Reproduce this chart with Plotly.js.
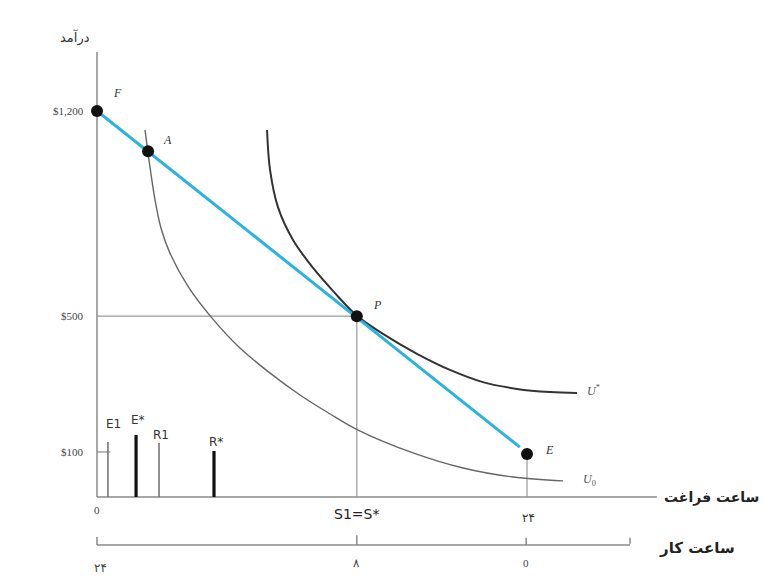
<!DOCTYPE html>
<html>
<head>
<meta charset="utf-8">
<script src="https://cdn.plot.ly/plotly-3.0.1.min.js"></script>
<style>html,body{margin:0;padding:0;background:#fff}</style>
</head>
<body>
<div id="chart" style="width:764px;height:579px"></div>
<script>
// Leisure hours (x) and income scale (y)
const budgetX = [0, 23.6];
const budgetY = [1200, 155];

const u0X = [2.68, 2.90, 3.24, 3.57, 4.07, 5.08, 6.47, 7.98, 9.66, 11.33, 13.01, 14.57, 17.64, 20.43, 23.22, 26.01];
const u0Y = [1141, 1048, 923, 836, 758, 655, 553, 463, 385, 317, 258, 208, 137, 90, 62, 50];

const uStarX = [9.49, 9.66, 10.10, 10.94, 12.06, 13.23, 14.51, 15.96, 17.86, 19.70, 21.54, 23.44, 25.28, 26.79];
const uStarY = [1141, 1016, 901, 799, 712, 637, 563, 507, 445, 395, 357, 336, 326, 323];

const pointNames = ['F', 'A', 'P', 'E'];
const pointX = [0, 2.85, 14.5, 24];
const pointY = [1200, 1075, 562, 134];

const barNames = ['E1', 'E*', 'R1', 'R*'];
const barX = [0.61, 2.18, 3.46, 6.53];
const barTop = [171, 193, 168, 143];
const barBold = [false, true, false, true];

const incomeTickText = ['$1,200', '$500', '$100'];
const incomeTickVals = [1200, 562, 140];

const workTickText = ['۲۴', '۸', '0'];
const workTickVals = [0, 14.5, 23.95];

const leisureEnd = 31.25;
const workEnd = 29.75;
const workY = -149;
const yTop = 1383;

const traces = [];
const gray = '#8a8a8a';

function seg(xs, ys, color, width) {
  traces.push({x: xs, y: ys, type: 'scatter', mode: 'lines',
    line: {color: color, width: width}, hoverinfo: 'skip', showlegend: false});
}

// axes
seg([0, 0], [0, yTop], gray, 1.5);
seg([0, leisureEnd], [0, 0], gray, 1.5);
seg([0, workEnd], [workY, workY], gray, 1.5);
seg([0, 0], [workY, workY + 25], gray, 1.5);
seg([workTickVals[1], workTickVals[1]], [workY, workY + 30], gray, 1.5);
seg([workTickVals[2], workTickVals[2]], [workY, workY + 22], gray, 1.5);
seg([workEnd, workEnd], [workY + 4, workY + 22], gray, 1.5);
// $100 tick
seg([0, 0.75], [incomeTickVals[2], incomeTickVals[2]], gray, 1.2);

// guide lines through P and E
seg([0, pointX[2], pointX[2]], [pointY[2], pointY[2], 0], '#999', 1.2);
seg([pointX[3], pointX[3]], [pointY[3], 0], '#999', 1.2);

// bars
barX.forEach((bx, i) => {
  seg([bx, bx], [0, barTop[i]], barBold[i] ? '#111' : '#777', barBold[i] ? 3.2 : 1.6);
});

// indifference curves
traces.push({x: u0X, y: u0Y, type: 'scatter', mode: 'lines',
  line: {color: '#666', width: 1.4, shape: 'spline', smoothing: 1}, hoverinfo: 'skip', showlegend: false});
traces.push({x: uStarX, y: uStarY, type: 'scatter', mode: 'lines',
  line: {color: '#333', width: 2, shape: 'spline', smoothing: 1}, hoverinfo: 'skip', showlegend: false});

// budget line
traces.push({x: budgetX, y: budgetY, type: 'scatter', mode: 'lines',
  line: {color: '#2bb3e0', width: 3}, hoverinfo: 'skip', showlegend: false});

// points
traces.push({x: pointX, y: pointY, type: 'scatter', mode: 'markers',
  marker: {color: '#111', size: 12}, hoverinfo: 'skip', showlegend: false});

const serif = 'Liberation Serif, serif';
const ann = [];
function txt(x, y, text, size, color, family, extra) {
  ann.push(Object.assign({x: x, y: y, xref: 'x', yref: 'y', text: text, showarrow: false,
    font: {size: size, color: color, family: family}}, extra || {}));
}

// point labels
const labelOff = [[1.17, 1256], [3.96, 1110], [15.68, 597], [25.28, 146]];
pointNames.forEach((n, i) => txt(labelOff[i][0], labelOff[i][1], '<i>' + n + '</i>', 12, '#333', serif));
txt(27.7, 330, '<i>U</i><sup>*</sup>', 12, '#555', serif);
txt(27.5, 53, '<i>U</i><sub>0</sub>', 12, '#555', serif);

// bar labels
const barLabelY = [226, 240, 193, 170];
barNames.forEach((n, i) => txt(barX[i] + (i === 0 ? 0.3 : 0.1), barLabelY[i], n, 12, '#333', 'DejaVu Sans, sans-serif'));

// income tick labels
incomeTickText.forEach((t, i) => txt(-0.6, incomeTickVals[i], t, 11, '#444', serif, {xanchor: 'right'}));
txt(0, -40, '0', 11, '#444', serif);

// work axis tick labels
workTickText.forEach((t, i) => txt(workTickVals[i] + (i === 0 ? 0.2 : 0), workY - (i === 0 ? 72 : 56), t, i === 2 ? 11 : 12, '#444', i === 2 ? serif : 'DejaVu Sans, sans-serif'));

// leisure axis labels
txt(pointX[2], -53, 'S1=S*', 14, '#222', 'DejaVu Sans, sans-serif');
txt(24.1, -65, '۲۴', 12, '#333', 'DejaVu Sans, sans-serif');

// axis titles
txt(-1.25, 1427, 'درآمد', 13, '#333', 'DejaVu Sans, sans-serif');
txt(34.3, 0, '<b>ساعت فراغت</b>', 14, '#222', 'DejaVu Sans, sans-serif');
txt(33.5, -159, '<b>ساعت کار</b>', 15, '#222', 'DejaVu Sans, sans-serif');

const layout = {
  width: 764, height: 579,
  margin: {l: 0, r: 0, t: 0, b: 0},
  paper_bgcolor: '#fff', plot_bgcolor: '#fff',
  xaxis: {range: [-5.414, 37.227], visible: false, fixedrange: true},
  yaxis: {range: [-254.9, 1544.9], visible: false, fixedrange: true},
  annotations: ann,
  showlegend: false
};

Plotly.newPlot('chart', traces, layout, {displayModeBar: false, staticPlot: true});
</script>
</body>
</html>
